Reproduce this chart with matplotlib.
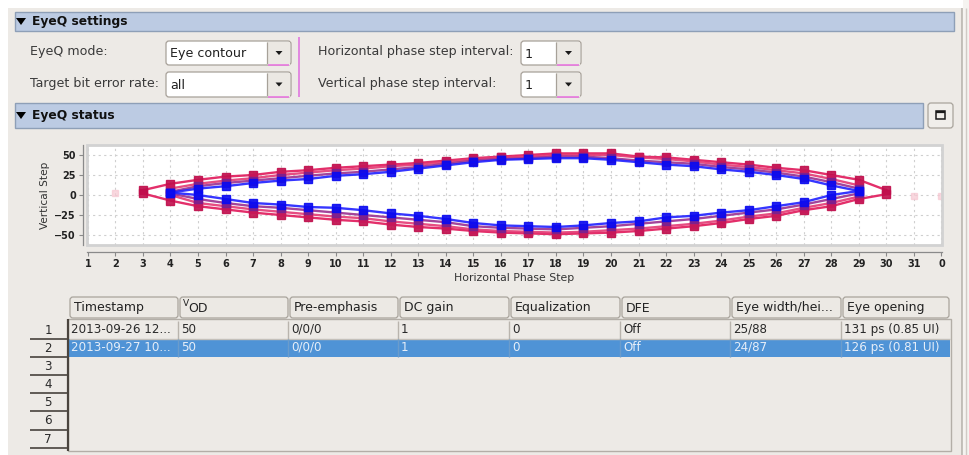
import matplotlib
matplotlib.use('Agg')
import matplotlib.pyplot as plt
from matplotlib.patches import Rectangle, FancyBboxPatch, Polygon

# eye contour scans: vertical step reached at each horizontal phase step
x_outer = list(range(3, 31))
red_outer_top = [6, 14, 19, 23, 25, 29, 31, 34, 36, 38, 40, 43, 46, 48, 50, 52, 52, 52,
                 48, 47, 44, 41, 38, 34, 31, 25, 19, 6]
red_outer_bot = [2, -7, -14, -18, -22, -25, -28, -31, -33, -37, -40, -42, -45, -47, -48, -49,
                 -48, -47, -45, -42, -39, -35, -30, -26, -19, -14, -5, 1]

x_inner = list(range(4, 30))
red_inner_top = [8, 14, 18, 21, 25, 28, 31, 33, 36, 38, 41, 45, 47, 48, 50, 50, 50, 47,
                 45, 42, 38, 35, 31, 27, 20, 12]
red_inner_bot = [0, -10, -14, -18, -21, -24, -27, -29, -33, -36, -39, -43, -45, -46, -47,
                 -46, -44, -42, -39, -36, -32, -27, -23, -16, -10, -2]
purple_top = [4, 11, 15, 18, 21, 24, 27, 29, 32, 35, 39, 43, 45, 46, 48, 48, 46, 43,
              41, 39, 35, 32, 28, 23, 16, 8]
purple_bot = [2, -5, -10, -14, -16, -19, -22, -25, -28, -31, -34, -39, -41, -42, -43,
              -41, -39, -36, -33, -30, -26, -22, -18, -12, -5, 2]
blue_top = [3, 8, 11, 15, 18, 20, 24, 26, 29, 33, 37, 41, 44, 45, 46, 46, 44, 41,
            38, 36, 32, 29, 25, 20, 12, 5]
blue_bot = [3, 0, -5, -10, -12, -15, -16, -19, -23, -26, -30, -35, -38, -39, -40,
            -38, -35, -33, -28, -26, -22, -19, -14, -9, 0, 5]

faint_x = [2, 31, 32]
faint_y = [2, -1, -1]

x_ticks = list(range(1, 33))
x_tick_labels = [str(i) for i in range(1, 32)] + ['0']
y_ticks = [-50, -25, 0, 25, 50]

# table contents
headers = ['Timestamp', 'VOD', 'Pre-emphasis', 'DC gain', 'Equalization', 'DFE',
           'Eye width/hei...', 'Eye opening']
rows = [['2013-09-26 12...', '50', '0/0/0', '1', '0', 'Off', '25/88', '131 ps (0.85 UI)'],
        ['2013-09-27 10...', '50', '0/0/0', '1', '0', 'Off', '24/87', '126 ps (0.81 UI)']]
row_numbers = ['1', '2', '3', '4', '5', '6', '7']

# layout (pixels)
col_edges = [70, 180, 290, 400, 511, 622, 732, 843, 951]

BG = '#edeae6'
TXT = '#3a3a3a'
LBL = 9.1

fig = plt.figure(figsize=(9.69, 4.55), dpi=100)
fig.patch.set_facecolor('white')
ui = fig.add_axes([0, 0, 1, 1])
ui.set_xlim(0, 969)
ui.set_ylim(455, 0)
ui.axis('off')


def rect(x0, y0, x1, y1, fc='none', ec='none', lw=1, r=0, z=1):
    if r:
        p = FancyBboxPatch((x0, y0), x1 - x0, y1 - y0,
                           boxstyle='round,pad=0,rounding_size=%s' % r,
                           fc=fc, ec=ec, lw=lw, zorder=z)
    else:
        p = Rectangle((x0, y0), x1 - x0, y1 - y0, fc=fc, ec=ec, lw=lw, zorder=z)
    ui.add_patch(p)


def hline(x0, x1, y, c, lw=1, z=2):
    ui.plot([x0, x1], [y, y], color=c, lw=lw, zorder=z, solid_capstyle='butt')


def vline(x, y0, y1, c, lw=1, z=2):
    ui.plot([x, x], [y0, y1], color=c, lw=lw, zorder=z, solid_capstyle='butt')


def tri_down(cx, cy, w, h, c='#1a1a1a'):
    ui.add_patch(Polygon([(cx - w / 2, cy - h / 2), (cx + w / 2, cy - h / 2), (cx, cy + h / 2)],
                         closed=True, fc=c, ec='none', zorder=5))


def combo(x0, y0, x1, y1, xb, text):
    rect(x0, y0, x1, y1, fc='white', ec='#a7a199', lw=0.9, r=3, z=3)
    rect(xb, y0 + 0.5, x1 - 0.5, y1 - 0.5, fc='#ebe8e3', ec='none', z=3)
    vline(xb, y0 + 1, y1 - 1, '#a7a199', 0.9, z=4)
    hline(xb + 1, x1 - 2, y1 - 0.5, '#e878e0', 1.2, z=4)
    tri_down((xb + x1) / 2, (y0 + y1) / 2, 7, 4)
    ui.text(x0 + 4, (y0 + y1) / 2 + 1, text, fontsize=LBL, color='#202020', va='center', zorder=5)


# window background
rect(8, 8, 962, 455, fc=BG, z=0)
vline(962, 8, 455, '#b9b5ae', 1.2)
rect(963, 0, 969, 455, fc='#f5f3f0', z=0)
vline(966, 8, 455, '#cfcac4', 1)

# section headers
rect(15, 12, 954, 31, fc='#bccbe3', ec='#8e9fb7', lw=1, z=1)
ui.add_patch(Polygon([(16, 18), (26, 18), (21, 25)], closed=True, fc='black', zorder=5))
ui.text(32, 21.5, 'EyeQ settings', fontsize=8.8, fontweight='bold', color='#111111', va='center')

rect(15, 103, 923, 128, fc='#bccbe3', ec='#8e9fb7', lw=1, z=1)
ui.add_patch(Polygon([(16, 112), (26, 112), (21, 119)], closed=True, fc='black', zorder=5))
ui.text(32, 115.5, 'EyeQ status', fontsize=8.8, fontweight='bold', color='#111111', va='center')
rect(928, 103, 953, 128, fc='#f0eeea', ec='#a9a49c', lw=0.9, r=3, z=2)
rect(936, 111, 945, 119, fc='none', ec='#1a1a1a', lw=1.1, z=3)
hline(936, 945, 112, '#1a1a1a', 1.6, z=3)

# settings controls
ui.text(30, 52, 'EyeQ mode:', fontsize=LBL, color=TXT, va='center')
ui.text(30, 84, 'Target bit error rate:', fontsize=LBL, color=TXT, va='center')
combo(166, 41, 291, 65, 267, 'Eye contour')
combo(166, 72, 291, 97, 267, 'all')
vline(299, 37, 97, '#e080e0', 1.3)
ui.text(318, 52, 'Horizontal phase step interval:', fontsize=LBL, color=TXT, va='center')
ui.text(318, 84, 'Vertical phase step interval:', fontsize=LBL, color=TXT, va='center')
combo(521, 41, 581, 65, 556, '1')
combo(521, 72, 581, 97, 556, '1')

# eye diagram
ax = fig.add_axes([87 / 969, 1 - 245 / 455, 855 / 969, 100 / 455])
ax.set_facecolor('white')
ax.set_xlim(0.97, 32.02)
ax.set_ylim(-62.5, 62.5)

ax.plot(faint_x, faint_y, 's', color='#f7c8d2', ms=5, alpha=0.7, zorder=2)
series = [
    (x_outer, red_outer_top, red_outer_bot, '#e0185a', '#c00e4c'),
    (x_inner, red_inner_top, red_inner_bot, '#e43a74', '#c8185a'),
    (x_inner, purple_top, purple_bot, '#9a3090', '#7a2090'),
    (x_inner, blue_top, blue_bot, '#2020ff', '#0a0af0'),
]
for xs, top, bot, lc, mc in series:
    for ys in (top, bot):
        ax.plot(xs, ys, '-s', color=lc, lw=1.7, ms=5.8, mfc=mc, mec=mc,
                alpha=0.9, zorder=3)

ax.set_xticks(x_ticks)
ax.set_xticklabels(x_tick_labels)
ax.set_yticks(y_ticks)
ax.grid(True, color='#cfcfcf', ls=(0, (2, 3)), lw=0.8)
ax.set_axisbelow(True)
for s in ('top', 'right'):
    ax.spines[s].set_visible(False)
ax.spines['left'].set_position(('outward', 3))
ax.spines['bottom'].set_position(('outward', 5))
for s in ('left', 'bottom'):
    ax.spines[s].set_color('#8a8a8a')
    ax.spines[s].set_linewidth(0.9)
ax.tick_params(length=3, width=0.8, color='#8a8a8a', labelsize=7, labelcolor='#222222', pad=2)
for lab in ax.get_xticklabels() + ax.get_yticklabels():
    lab.set_fontweight('semibold')
ax.add_patch(Rectangle((0, 0), 1, 1, transform=ax.transAxes, fill=False,
                       ec='#d2d2d2', lw=2, clip_on=False, zorder=4))
ax.set_xlabel('Horizontal Phase Step', fontsize=7.8, color='#333333', labelpad=3)
ax.set_ylabel('Vertical Step', fontsize=7.6, color='#333333', labelpad=3)

# results table
for i, h in enumerate(headers):
    x0, x1 = col_edges[i], col_edges[i + 1] - 2
    rect(x0, 297, x1, 318, fc='#ece9e4', ec='#a9a49c', lw=0.9, r=3, z=2)
    if h == 'VOD':
        ui.text(x0 + 3, 303, 'V', fontsize=6.5, color='#222222', va='center', zorder=5)
        ui.text(x0 + 8, 309, 'OD', fontsize=9, color='#222222', va='center', zorder=5)
    else:
        ui.text(x0 + 4, 308, h, fontsize=9, color='#222222', va='center', zorder=5)

rect(68, 319, 951, 451, fc=BG, ec='#b3aea7', lw=1, z=1)
rect(69, 339, 950, 357, fc='#4f93d6', z=2)
hline(69, 950, 338.5, '#c4c0ba', 1, z=2)
for r_i, row in enumerate(rows):
    y = 329.5 + 18 * r_i
    col = '#2a2a2a' if r_i == 0 else '#e6eef8'
    for i, cell in enumerate(row):
        ui.text(col_edges[i] + 1, y, cell, fontsize=8.6, color=col, va='center', zorder=5)
    for xe in col_edges[1:-1]:
        vline(xe - 1.5, y - 9, y + 9, '#b9b4ad' if r_i == 0 else '#6a9ccc', 1, z=3)

vline(68, 319, 451, '#4a443e', 1.6, z=3)
for k, n in enumerate(row_numbers):
    y = 330 + 18.2 * k
    ui.text(48, y, n, fontsize=8.6, color='#2a2a2a', ha='center', va='center', zorder=5)
    hline(30, 67, y + 8.5, '#55504a', 1.3, z=3)

fig.savefig('out.png', dpi=100)
